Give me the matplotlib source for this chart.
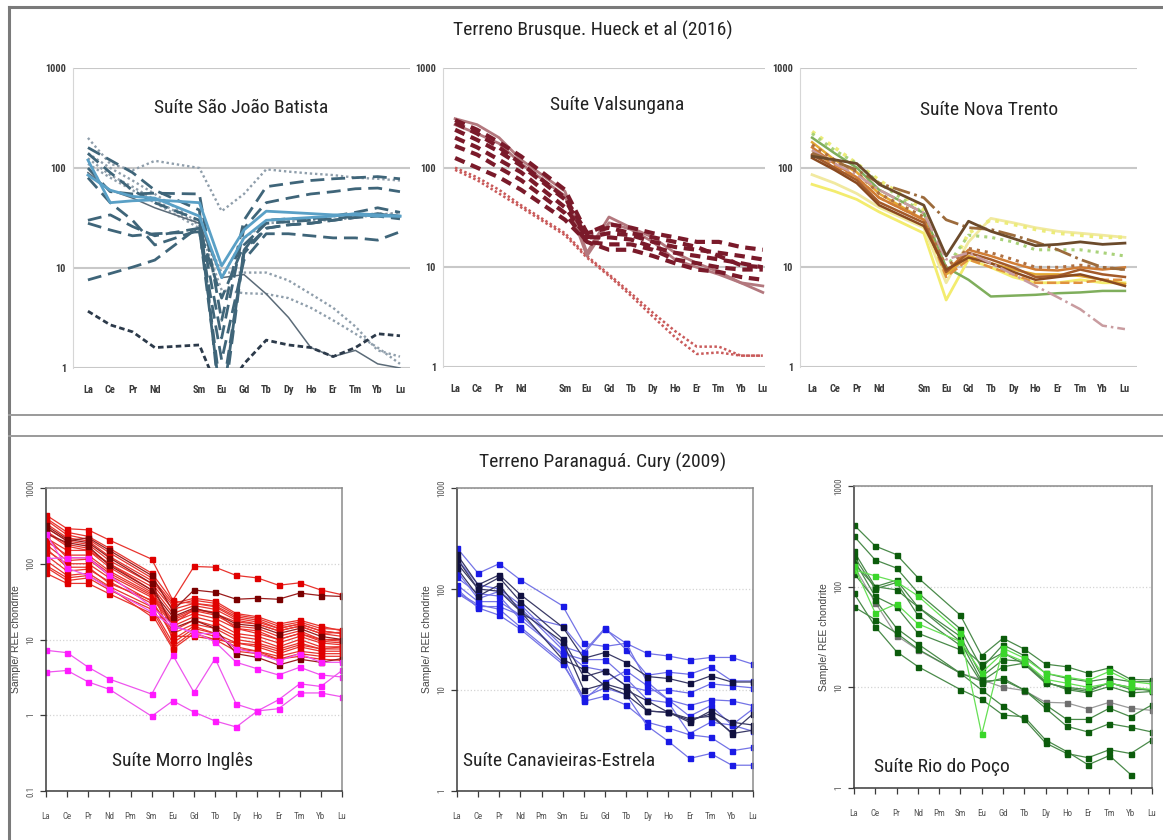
import numpy as np
import matplotlib
matplotlib.use("Agg")
import matplotlib.pyplot as plt
from matplotlib import font_manager
from matplotlib.lines import Line2D
from matplotlib.ticker import NullLocator

W, H = 1163, 840
nan = np.nan

# condensed face for the labels, if one is installed
_names = sorted({f.name for f in font_manager.fontManager.ttflist})
_narrow = [n for n in _names if "Narrow" in n or "Condensed" in n]
_pref = ["Liberation Sans Narrow", "Roboto Condensed", "Archivo Narrow"]
NARROW = next((n for n in _pref if n in _names), _narrow[0] if _narrow else "Liberation Sans")
plt.rcParams["font.family"] = [NARROW, "DejaVu Sans"]

# element order; Pm is left out of the measured lists (gap at position 4)
REE = ["La", "Ce", "Pr", "Nd", "Sm", "Eu", "Gd", "Tb", "Dy", "Ho", "Er", "Tm", "Yb", "Lu"]
REE_PM = ["La", "Ce", "Pr", "Nd", "Pm", "Sm", "Eu", "Gd", "Tb", "Dy", "Ho", "Er", "Tm", "Yb", "Lu"]
POS = [0, 1, 2, 3, 5, 6, 7, 8, 9, 10, 11, 12, 13, 14]

# --- Terreno Brusque (Hueck et al. 2016) ---
SJB_SOLID = [
    [120, 45, 47, 48, 45, 10.5, 24, 37, 36, 35, 34, 34, 33, 33],
    [85, 60, 52, 50, 33, 8, 20, 30, 31, 32, 33, 35, 34, 33],
]
SJB_DASH = [
    [160, 120, 90, 60, 38, 0.3, 15, 25, 27, 28, 30, 32, 35, 33],
    [100, 58, 55, 56, 55, 3, 30, 65, 70, 75, 78, 80, 82, 78],
    [140, 90, 60, 45, 30, 2, 25, 45, 50, 55, 58, 62, 63, 58],
    [30, 34, 26, 21, 25, 0.4, 15, 30, 31, 31, 33, 36, 40, 36],
    [28, 24, 21, 22, 23, 1.2, 12, 22, 22, 21, 20, 20, 19, 23],
    [7.6, 8.8, 10.2, 12, 26, 0.5, 14, 25, 27, 28, 30, 32, 33, 31],
    [80, 45, 30, 17, 24, 5, 17, 28, 29, 30, 31, 33, 35, 32],
]
SJB_DOT = [
    [200, 110, 95, 118, 100, 37, 55, 97, 92, 88, 85, 80, 78, 75],
    [140, 100, 75, 55, 28, 9, 9, 9, 7.5, 5.5, 4, 2.6, 1.5, 1.3],
    [110, 80, 60, 45, 25, 6, 5.6, 5.5, 5, 4, 3, 2.2, 1.6, 1.1],
    [125, 85, 65, 48, 27, 8, 20, 28, 29, 30, 30, 32, 34, 36],
]
SJB_THIN = [[90, 60, 50, 40, 28, 8, 8.6, 5.5, 3.2, 1.6, 1.3, 1.5, 1.1, 1.0]]
SJB_LOW = [[3.7, 2.7, 2.3, 1.6, 1.7, 0.5, 1.1, 1.9, 1.7, 1.6, 1.3, 1.6, 2.2, 2.1]]

VAL_DASH = [
    [300, 240, 180, 130, 60, 22, 27, 25, 22, 20, 18, 18, 16, 15],
    [280, 220, 160, 110, 50, 22, 25, 22, 20, 18, 16, 13, 10.5, 10],
    [240, 190, 145, 105, 48, 20, 22, 21, 18, 16, 15, 14, 13, 12],
    [200, 160, 120, 90, 40, 20, 20, 19, 16, 14, 13, 12, 11, 10],
    [165, 135, 100, 75, 35, 18, 17, 17, 15, 12, 11, 10, 9.5, 9.5],
    [125, 100, 80, 60, 30, 18, 15, 15, 13, 11, 9.5, 9, 8, 7.5],
]
VAL_SOLID = [
    [310, 270, 200, 120, 58, 14, 32, 25, 20, 14, 11, 9, 7, 5.6],
    [270, 220, 175, 110, 52, 13, 28, 24, 18, 12, 10, 8.5, 7, 6.5],
]
VAL_DOT = [
    [100, 80, 60, 42, 22, 13, 8.5, 5.5, 3.5, 2.3, 1.6, 1.6, 1.3, 1.3],
    [95, 75, 55, 40, 21, 12.5, 8.2, 5.2, 3.2, 2.0, 1.35, 1.4, 1.3, 1.3],
]

NT_LINES = [
    [68, 58, 48, 36, 22, 4.7, 12, 10, 8, 7, 7, 7.5, 7, 7],
    [85, 70, 55, 40, 25, 7, 18, 31, 28, 25, 23, 22, 21, 20],
    [230, 160, 110, 75, 38, 8, 22, 30, 27, 24, 22, 21, 20, 20],
    [220, 150, 110, 70, 35, 10, 21, 20, 18, 15, 15, 15, 14, 13],
    [200, 140, 100, 60, 35, 10, 7.5, 5.1, 5.2, 5.3, 5.5, 5.6, 5.8, 5.8],
    [180, 120, 90, 55, 30, 8.5, 13, 11, 9.5, 8.5, 8.5, 8.2, 7.5, 6.8],
    [150, 105, 80, 50, 30, 8, 12, 10, 8.5, 7, 7, 7, 7.5, 7.5],
    [160, 110, 80, 50, 30, 9, 15, 13, 11, 9.5, 9.3, 10, 9.5, 10],
    [170, 120, 90, 55, 32, 10, 15.5, 14, 12, 10, 10, 10.5, 10, 9.5],
    [135, 100, 75, 45, 28, 9, 14, 12, 10, 8, 8.2, 9.5, 8.5, 8],
    [125, 95, 70, 42, 26, 9.5, 12.5, 11, 9, 7.5, 8, 8.5, 7.5, 6.5],
    [150, 110, 85, 60, 35, 12, 14, 11, 8.5, 6.5, 5, 3.8, 2.6, 2.4],
    [140, 115, 95, 70, 50, 30, 25, 24, 21, 18, 15, 12, 10, 9.5],
    [130, 120, 110, 68, 42, 13, 29, 23, 19.5, 16.5, 17, 18, 17, 17.5],
]
NT_STYLES = [
    dict(color="#f3ec6e", ls="-", lw=2.0),
    dict(color="#f1e9a0", ls="-", lw=2.0),
    dict(color="#ecec7a", ls=":", lw=2.6),
    dict(color="#a9d27a", ls=":", lw=2.2),
    dict(color="#7fae5c", ls="-", lw=1.8),
    dict(color="#e3a733", ls="-", lw=1.8),
    dict(color="#e0913f", ls="--", lw=1.8),
    dict(color="#d07c34", ls="-", lw=1.8),
    dict(color="#b07040", ls=":", lw=2.2),
    dict(color="#a35a2a", ls="-", lw=1.8),
    dict(color="#8a4a20", ls="-", lw=1.8),
    dict(color="#c99ca0", ls="-.", lw=1.8),
    dict(color="#9c6b3c", ls="-.", lw=2.0),
    dict(color="#6b4a2b", ls="-", lw=2.0),
]

# --- Terreno Paranagua (Cury 2009) ---
MI_RED = [
    [440, 290, 280, 205, 115, 33, 92, 90, 70, 65, 52, 56, 45, 39],
    [380, 240, 210, 140, 65, 30, 35, 32, 22, 20, 16, 18, 15, 13],
    [400, 260, 230, 160, 75, 32, 30, 28, 20, 18, 14, 16, 13, 12],
    [340, 220, 200, 125, 60, 28, 33, 30, 21, 19, 15, 17, 14, 13.5],
    [300, 200, 180, 110, 55, 25, 30, 27, 19, 17, 14, 16, 13, 12],
    [270, 180, 160, 100, 50, 22, 28, 25, 18, 16, 13, 15, 12, 11],
    [220, 150, 150, 90, 42, 18, 24, 21, 15, 14, 11, 13, 10, 9.5],
    [230, 120, 120, 75, 38, 16, 25, 22, 17, 16, 13, 15, 12, 12.5],
    [200, 130, 130, 80, 40, 17, 22, 19, 14, 13, 10, 12, 9.5, 9],
    [180, 110, 115, 70, 36, 15, 20, 17, 12, 11, 9, 11, 9, 8.5],
    [150, 100, 100, 65, 32, 13, 18, 15, 11, 10, 8, 10, 8, 8],
    [130, 80, 85, 58, 30, 12, 16, 14, 10, 9, 7.5, 9, 7.5, 7.5],
    [110, 70, 75, 50, 27, 9, 14, 12, 9, 8, 6.5, 8, 7, 7],
    [90, 60, 65, 45, 25, 8, 13, 11, 8, 7, 6, 7, 6.5, 6.5],
    [75, 55, 55, 40, 22, 7.5, 12, 10, 7, 6.5, 5.5, 6.5, 6, 6],
    [260, 170, 150, 100, 45, 10, 15, 12, 7.5, 7, 5.5, 6, 5.5, 5.3],
    [160, 90, 90, 55, 33, 11, 11, 10, 9, 8.5, 7, 8.5, 7.5, 8],
    [95, 65, 70, 48, 20, 19, 25, 23, 14, 12, 10, 12, 10, 10],
]
MI_DARK = [
    [300, 200, 220, 150, 70, 24, 45, 42, 34, 35, 34, 41, 38, 37],
    [250, 190, 170, 95, 45, 20, 26, 22, 16, 15, 12, 14, 11, 10],
    [320, 210, 190, 120, 55, 14, 18, 14, 6.5, 5.8, 4.6, 5.5, 5, 5.6],
]
MI_MAGENTA = [
    [7.2, 6.7, 4.3, 3.0, 1.9, 6.2, 2.0, 5.6, 1.4, 1.14, 1.6, 2.6, 2.4, 3.9],
    [3.7, 3.9, 2.75, 2.2, 0.97, 1.55, 1.1, 0.84, 0.7, 1.14, 1.22, 1.97, 1.97, 1.75],
    [117, 120, 120, 70, 27, 15.5, 12, 12, 7.6, 6.5, 5.2, 6.5, 5, 5],
    [250, 87, 70, 47, 23, 14.7, 12.6, 9.3, 5, 4.1, 3.4, 4.3, 3.4, 3.2],
]

CE_BLUE = [
    [255, 143, 178, 123, 68, 29, 27, 29, 23, 21.7, 19.8, 21, 21, 18],
    [91, 67, 67, 55, 43, 24, 41, 25, 14, 15, 14.3, 17, 12.3, 12.3],
    [150, 80, 95, 65, 25, 17, 15.5, 11, 9.8, 10, 9.3, 11.5, 11, 10.5],
    [110, 75, 75, 55, 22, 8, 12, 15.5, 11, 8, 7, 8, 7.8, 7],
    [93, 70, 63, 42, 19, 7.7, 8.7, 7.1, 4.8, 4.2, 3.6, 3.4, 2.5, 2.7],
    [100, 65, 55, 40, 18, 8.5, 10.5, 9, 4.4, 3.1, 2.1, 2.35, 1.8, 1.8],
    [130, 90, 85, 50, 23, 20, 20, 13, 8, 7.5, 3.7, 4.8, 4.5, 3.9],
    [200, 110, 100, 70, 27, 23, 40, 29, 12, 8, 5.5, 7, 4.5, 6.5],
]
CE_NAVY = [
    [220, 110, 138, 88, 42, 20.6, 23.5, 18.7, 13.6, 13, 11.6, 13.8, 12, 12],
    [180, 100, 130, 75, 32, 13.5, 15.5, 11, 6.2, 6, 5, 5.8, 3.7, 4],
    [160, 85, 110, 60, 30, 10, 11.5, 10, 7.8, 6, 4.8, 6.2, 4.8, 4.5],
    [200, 100, 95, 60, 20, 16, 11, 9, 6.2, 6, 5.2, 5.5, 3.8, 5.8],
]

RP_DARK = [
    [410, 253, 208, 123, 52, 20.6, 30.7, 24, 17, 16, 13.8, 15.6, 12, 11.8],
    [317, 184, 153, 87, 38, 15.5, 26.5, 20.6, 13.8, 12.3, 11.4, 12.3, 11.4, 11.4],
    [224, 100, 116, 63, 28.5, 11.5, 16, 17.4, 11.2, 9.8, 9.1, 11.2, 9.5, 9.5],
    [170, 100, 93, 63, 32, 12.8, 18.8, 18.1, 11.4, 9.5, 8.8, 10.2, 8.8, 9.1],
    [184, 80, 63, 34.5, 23.6, 11, 12.3, 9.4, 6.2, 4.1, 3.6, 4.35, 4, 3.6],
    [135, 74, 38.6, 27, 13.8, 9.4, 6.5, 4.8, 2.8, 2.2, 2.0, 2.4, 2.2, 3.0],
    [86, 40, 22.6, 16.1, 9.5, 7.6, 5.3, 5.1, 3.0, 2.3, 1.7, 2.1, 1.36, nan],
    [63, 47, 34.5, 24, 13.8, 11.5, 11.8, 9.4, 6.7, 4.8, 4.8, 6.2, 5.1, 6.7],
    [200, 95, 110, 52, 26, 17, 22, 17, 11, 10, 9.5, 11, 10, 9.2],
]
RP_BRIGHT = [
    [147, 128, 112, 81, 34.5, 3.4, 24.5, 19.5, 13.8, 12.6, 11.7, 14.4, 11.4, 10.8],
    [160, 54.5, 67.5, 42.8, 28.5, 14, 22, 18, 12, 11, 10, 11, 10, 9.5],
]
RP_GRAY = [[160, 69.5, 32.6, 23.6, 13.8, 11.9, 10, 9.3, 7.1, 7, 6.1, 7.1, 6.2, 5.9]]


fig = plt.figure(figsize=(W / 100, H / 100), dpi=100)
fig.patch.set_facecolor("white")


def px_axes(x0, y0, x1, y1):
    return fig.add_axes([x0 / W, 1 - y1 / H, (x1 - x0) / W, (y1 - y0) / H])


def top_axes(box, xlim):
    ax = px_axes(*box)
    ax.set_yscale("log")
    ax.set_ylim(1, 1000)
    ax.set_xlim(*xlim)
    ax.set_yticks([1, 10, 100, 1000], ["1", "10", "100", "1000"])
    ax.yaxis.set_minor_locator(NullLocator())
    ax.set_xticks(POS, REE)
    ax.grid(axis="y", color="#c8c8c8", lw=1.5)
    ax.set_axisbelow(True)
    for s in ("top", "right", "bottom"):
        ax.spines[s].set_visible(False)
    ax.spines["left"].set_color("#d6d6d6")
    ax.tick_params(length=0, labelsize=7.5, labelcolor="#3a3a3a")
    ax.tick_params(axis="x", pad=12)
    ax.tick_params(axis="y", pad=5)
    for lab in ax.get_xticklabels() + ax.get_yticklabels():
        lab.set_fontweight("bold")
    return ax


def bottom_axes(box, ylim, yticks):
    ax = px_axes(*box)
    ax.set_yscale("log")
    ax.set_ylim(*ylim)
    ax.set_xlim(0, 14)
    ax.set_yticks(yticks, [f"{t:g}" for t in yticks])
    ax.yaxis.set_minor_locator(NullLocator())
    ax.set_xticks(range(15), REE_PM)
    ax.grid(axis="y", color="#d4d4d4", ls=":", lw=0.9)
    ax.set_axisbelow(True)
    for s in ("left", "bottom"):
        ax.spines[s].set_color("#3a3a3a")
        ax.spines[s].set_linewidth(1.1)
    for s in ("top", "right"):
        ax.spines[s].set_color("#8a8a8a")
        ax.spines[s].set_linewidth(1.1)
    ax.tick_params(direction="out", length=4, width=0.9, color="#3a3a3a",
                   labelsize=6.5, labelcolor="#555555")
    ax.tick_params(axis="x", pad=11)
    for lab in ax.get_yticklabels():
        lab.set_rotation(90)
        lab.set_va("center")
    ax.set_ylabel("Sample/ REE chondrite", fontsize=7.5, color="#444444",
                  family=["Liberation Sans", "DejaVu Sans"], labelpad=4)
    return ax


def draw(ax, rows, **kw):
    for r in rows:
        ax.plot(POS, r, **kw)


# Terreno Brusque panels
ax1 = top_axes((73, 68, 410, 368), (-0.67, 14.45))
draw(ax1, SJB_DOT, color="#8f9eab", ls=(0, (1, 1.2)), lw=1.7)
draw(ax1, SJB_THIN, color="#5b6b78", lw=1.1)
draw(ax1, SJB_DASH, color="#3f6579", ls=(0, (5, 2.5)), lw=2.0)
draw(ax1, SJB_SOLID, color="#5aa0c6", lw=2.0)
draw(ax1, SJB_LOW, color="#2c3a4a", ls=(0, (2, 1.2)), lw=2.0)
ax1.text(0.5, 0.867, "Suíte São João Batista", transform=ax1.transAxes,
         ha="center", va="center", fontsize=14, color="#222222")

ax2 = top_axes((443, 68, 765, 367), (-0.55, 14.1))
draw(ax2, VAL_DOT, color="#c95a5a", ls=(0, (1, 1)), lw=1.8)
draw(ax2, VAL_SOLID, color="#b3787e", lw=2.0)
draw(ax2, VAL_DASH, color="#7a1a2a", ls=(0, (2.5, 1.6)), lw=3.0)
ax2.text(0.54, 0.877, "Suíte Valsungana", transform=ax2.transAxes,
         ha="center", va="center", fontsize=14, color="#222222")

ax3 = top_axes((800, 68, 1137, 367), (-0.54, 14.54))
for r, st in zip(NT_LINES, NT_STYLES):
    ax3.plot(POS, r, **st)
ax3.text(0.56, 0.86, "Suíte Nova Trento", transform=ax3.transAxes,
         ha="center", va="center", fontsize=14, color="#222222")

# Terreno Paranagua panels
mk = dict(marker="s", ms=3.6, lw=0.9)
ax4 = bottom_axes((46, 488, 342, 791), (0.1, 1000), [0.1, 1, 10, 100, 1000])
draw(ax4, MI_RED, color="#e8342e", mfc="#e00000", mec="#e00000", **mk)
draw(ax4, MI_DARK, color="#9a1c1c", mfc="#7a0000", mec="#7a0000", **mk)
draw(ax4, MI_MAGENTA, color="#ee55ee", mfc="#ff1aff", mec="#ff1aff", **mk)
ax4.text(0.46, 0.1, "Suíte Morro Inglês", transform=ax4.transAxes,
         ha="center", va="center", fontsize=14, color="#222222")

ax5 = bottom_axes((457, 488, 753, 791), (1, 1000), [1, 10, 100, 1000])
draw(ax5, CE_BLUE, color="#7474e6", mfc="#1a1ae6", mec="#1a1ae6", **mk)
draw(ax5, CE_NAVY, color="#3a3a66", mfc="#101040", mec="#101040", **mk)
ax5.text(0.345, 0.1, "Suíte Canavieiras-Estrela", transform=ax5.transAxes,
         ha="center", va="center", fontsize=14, color="#222222")

ax6 = bottom_axes((854, 486, 1152, 788), (1, 1000), [1, 10, 100, 1000])
draw(ax6, RP_GRAY, color="#9a9a9a", mfc="#6e6e6e", mec="#6e6e6e", **mk)
draw(ax6, RP_DARK, color="#4a8a4a", mfc="#0c5c0c", mec="#0c5c0c", **mk)
draw(ax6, RP_BRIGHT, color="#66e055", mfc="#3ad62a", mec="#3ad62a", **mk)
ax6.text(0.295, 0.068, "Suíte Rio do Poço", transform=ax6.transAxes,
         ha="center", va="center", fontsize=14, color="#222222")

# section headings and frame
fig.text(593 / W, 1 - 30 / H, "Terreno Brusque. Hueck et al (2016)",
         ha="center", va="center", fontsize=14, color="#222222")
fig.text(603 / W, 1 - 462 / H, "Terreno Paranaguá. Cury (2009)",
         ha="center", va="center", fontsize=14, color="#222222")


def fig_line(x0, y0, x1, y1, **kw):
    fig.add_artist(Line2D([x0 / W, x1 / W], [1 - y0 / H, 1 - y1 / H],
                          transform=fig.transFigure, **kw))


fig_line(9, 7, W, 7, color="#7a7a7a", lw=2.2)
fig_line(9, 7, 9, H, color="#7a7a7a", lw=2.2)
fig_line(9, 415, W, 415, color="#9a9a9a", lw=1.4)
fig_line(9, 436, W, 436, color="#9a9a9a", lw=1.4)

fig.savefig("out.png", dpi=100)
